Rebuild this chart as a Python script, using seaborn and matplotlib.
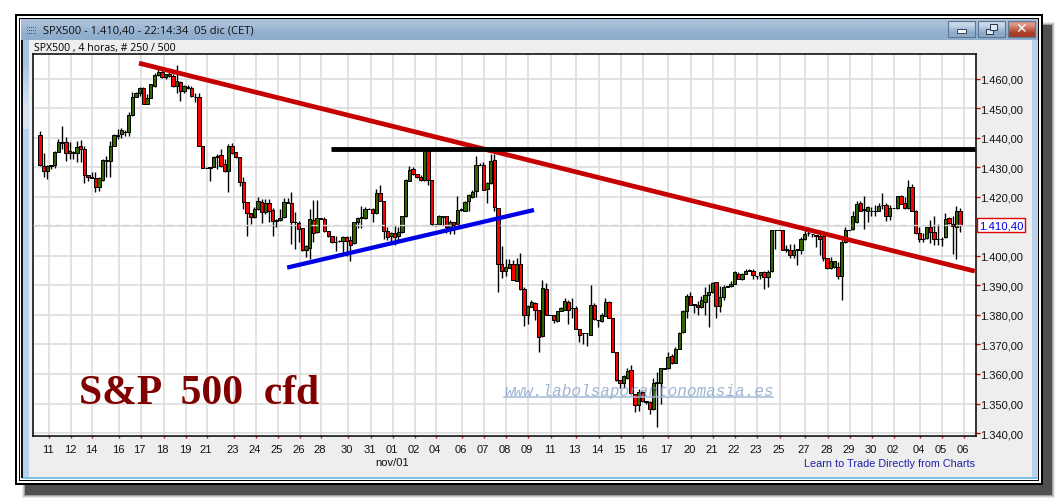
import numpy as np
import pandas as pd
import matplotlib
matplotlib.use("Agg")
import matplotlib.pyplot as plt
from matplotlib.patches import Rectangle
from matplotlib.lines import Line2D
from matplotlib.transforms import ScaledTranslation
import seaborn as sns

#--------------------------------Data----------------------------#
opens = [1440.9,1430.5,1428.6,1430.5,1430.8,1435.2,1438.2,1438.6,1434.7,1434.8,1434.7,1437.0,1436.0,1427.5,1426.6,1426.4,1423.4,1425.8,1432.1,1432.2,
         1437.3,1440.7,1441.2,1441.8,1442.0,1447.5,1453.9,1455.0,1456.9,1451.5,1453.5,1457.4,1461.1,1462.1,1460.4,1461.5,1461.0,1457.4,1458.9,1455.7,
         1456.9,1456.7,1453.6,1453.6,1437.2,1429.7,1429.8,1430.2,1433.4,1434.1,1431.1,1428.6,1437.2,1435.0,1433.3,1424.9,1418.1,1414.6,1413.1,1415.8,
         1418.1,1414.7,1417.9,1415.4,1411.8,1412.1,1413.0,1418.0,1417.9,1411.3,1411.2,1409.3,1401.8,1402.7,1412.2,1407.9,1412.6,1412.6,1408.4,1406.7,
         1404.7,1404.9,1404.9,1406.2,1405.4,1404.2,1411.6,1412.9,1412.7,1415.8,1415.7,1414.4,1421.2,1418.5,1408.5,1406.6,1407.7,1406.6,1408.0,1413.4,
         1425.3,1429.4,1427.6,1426.5,1425.6,1435.3,1425.6,1410.7,1410.8,1413.2,1413.3,1409.6,1411.4,1410.6,1415.6,1415.3,1418.4,1419.8,1421.8,1430.7,
         1430.8,1422.7,1424.7,1432.4,1416.1,1397.1,1395.0,1395.9,1397.1,1391.5,1397.1,1388.9,1380.0,1382.7,1383.9,1381.6,1372.7,1388.9,1380.0,1380.1,
         1378.0,1381.4,1381.8,1384.2,1382.3,1382.4,1375.2,1373.7,1373.7,1373.3,1383.5,1378.2,1378.0,1379.7,1384.2,1379.1,1367.5,1358.0,1356.9,1358.6,
         1361.2,1353.2,1349.6,1354.0,1351.0,1350.4,1348.0,1357.0,1356.8,1361.8,1361.9,1366.2,1363.8,1368.6,1374.1,1381.2,1386.4,1383.4,1383.2,1382.7,
         1384.4,1386.7,1387.6,1391.0,1382.9,1386.2,1389.6,1389.8,1390.6,1394.0,1392.2,1394.0,1394.9,1395.0,1393.2,1393.6,1394.6,1392.9,1394.7,1408.6,
         1408.6,1408.7,1402.4,1401.8,1400.1,1402.1,1401.8,1405.6,1407.7,1407.3,1406.6,1406.6,1406.6,1399.3,1395.9,1396.2,1396.2,1393.1,1404.8,1408.7,
         1408.9,1411.4,1417.9,1415.6,1415.1,1415.2,1415.2,1415.3,1417.1,1417.1,1413.4,1416.1,1416.2,1420.2,1417.8,1416.2,1423.2,1415.2,1407.7,1405.6,
         1406.0,1409.7,1407.9,1405.6,1405.6,1406.2,1412.7,1410.8,1409.6,1415.1]
closes = [1430.8,1428.6,1430.5,1430.7,1435.2,1438.4,1438.4,1434.7,1435.6,1435.0,1436.7,1436.0,1427.5,1426.6,1426.4,1423.4,1426.2,1432.3,1432.3,1437.2,
          1440.9,1440.9,1442.6,1442.0,1447.5,1453.7,1455.0,1456.8,1451.5,1453.3,1458.0,1461.1,1462.1,1460.6,1461.5,1460.7,1457.6,1459.1,1455.8,1457.4,
          1457.0,1454.0,1453.8,1437.3,1429.8,1429.8,1429.9,1433.4,1433.7,1430.5,1428.7,1437.0,1434.8,1433.3,1424.9,1418.1,1414.6,1413.1,1415.7,1418.4,
          1414.9,1417.9,1415.1,1411.7,1412.0,1412.8,1418.1,1418.1,1411.5,1411.4,1409.1,1402.1,1403.3,1412.3,1407.7,1412.7,1412.7,1408.3,1406.6,1404.6,
          1404.8,1405.1,1406.4,1405.1,1403.8,1411.4,1412.9,1413.0,1415.8,1415.9,1414.4,1421.3,1418.6,1408.3,1406.5,1407.6,1406.5,1408.2,1413.4,1425.6,
          1429.2,1427.6,1426.6,1425.6,1435.3,1425.6,1410.8,1410.8,1413.4,1413.3,1409.6,1411.6,1410.5,1415.4,1415.7,1418.2,1420.5,1421.5,1430.6,1430.8,
          1422.4,1424.6,1432.0,1416.5,1397.2,1395.0,1396.1,1397.1,1391.9,1397.1,1388.6,1380.0,1382.9,1384.2,1381.8,1372.4,1389.2,1380.0,1380.1,1378.3,
          1381.2,1382.3,1384.7,1381.8,1382.4,1375.3,1373.3,1373.8,1373.8,1383.5,1378.5,1378.3,1380.1,1384.4,1379.1,1367.5,1357.9,1357.1,1359.2,1360.9,
          1353.4,1349.6,1354.0,1350.9,1350.4,1348.3,1356.8,1357.1,1361.9,1361.9,1365.9,1363.7,1368.3,1373.8,1381.2,1386.4,1383.5,1383.5,1382.5,1385.0,
          1386.7,1387.6,1390.7,1383.1,1386.2,1389.6,1389.7,1390.6,1394.4,1392.3,1393.7,1394.8,1395.0,1393.5,1393.3,1394.4,1392.7,1394.4,1408.8,1408.7,
          1408.7,1402.1,1401.8,1400.1,1402.1,1402.3,1405.7,1407.3,1407.8,1407.4,1407.0,1405.7,1399.2,1395.8,1398.2,1398.1,1393.3,1404.6,1408.8,1408.8,
          1413.4,1417.4,1415.3,1415.7,1416.5,1415.3,1415.3,1417.0,1417.3,1413.4,1416.1,1416.2,1420.2,1417.6,1416.1,1423.2,1415.3,1407.7,1405.7,1405.7,
          1409.7,1407.9,1405.6,1405.7,1405.7,1412.3,1411.0,1410.0,1415.1,1410.4]
highs = [1442.4,1434.8,1430.8,1430.8,1435.6,1439.5,1443.9,1440.1,1438.4,1435.6,1438.9,1439.2,1437.3,1427.5,1428.5,1428.2,1426.6,1432.8,1433.9,1438.9,
         1441.2,1442.9,1443.1,1442.6,1448.8,1455.3,1455.3,1457.2,1457.2,1454.8,1458.3,1461.9,1463.3,1463.0,1461.5,1462.6,1461.5,1464.6,1459.2,1457.8,
         1457.8,1457.4,1455.1,1455.0,1437.2,1429.9,1429.9,1433.9,1434.5,1436.1,1432.8,1437.8,1438.2,1435.0,1433.3,1426.6,1418.1,1414.6,1416.4,1419.8,
         1419.2,1419.2,1419.2,1416.1,1412.5,1415.8,1419.4,1419.6,1421.5,1414.7,1411.9,1409.3,1403.7,1415.8,1419.0,1419.0,1412.7,1413.0,1408.4,1406.7,
         1406.8,1405.5,1406.8,1406.6,1406.6,1411.6,1413.1,1416.7,1416.5,1416.1,1416.1,1422.7,1423.8,1418.5,1409.7,1408.0,1410.0,1409.7,1413.6,1426.1,
         1430.3,1430.0,1427.6,1427.2,1435.3,1435.3,1425.6,1410.8,1413.9,1413.3,1413.3,1412.2,1411.4,1420.1,1416.1,1418.7,1420.9,1422.3,1433.9,1431.4,
         1431.7,1425.1,1434.5,1434.5,1416.1,1403.2,1398.9,1398.9,1398.6,1399.1,1401.1,1389.3,1383.3,1385.1,1384.4,1381.6,1391.8,1390.8,1380.1,1380.1,
         1381.4,1382.7,1385.7,1384.9,1385.6,1382.9,1375.2,1373.8,1373.8,1390.1,1384.0,1378.3,1380.5,1385.6,1384.8,1379.1,1367.5,1358.0,1359.8,1361.9,
         1363.0,1353.2,1354.9,1354.3,1351.0,1350.9,1358.8,1360.7,1361.9,1361.9,1367.5,1366.7,1369.0,1374.3,1381.6,1387.0,1387.8,1383.5,1384.8,1386.5,
         1389.3,1390.4,1391.0,1391.2,1389.8,1390.1,1389.7,1391.5,1394.7,1394.4,1394.1,1395.5,1395.5,1395.5,1393.3,1394.6,1394.9,1395.1,1408.8,1408.7,
         1408.7,1408.7,1403.5,1404.1,1404.1,1402.3,1406.3,1409.1,1409.7,1407.4,1407.0,1407.4,1406.6,1399.3,1399.5,1398.1,1397.9,1405.2,1409.7,1408.8,
         1415.3,1418.5,1418.7,1420.1,1416.7,1416.5,1417.3,1417.8,1421.3,1417.9,1417.3,1416.2,1420.4,1420.6,1419.8,1425.7,1424.4,1415.6,1409.7,1407.8,
         1409.9,1412.0,1413.6,1410.8,1406.3,1414.4,1413.1,1413.6,1416.7,1416.1]
lows = [1430.5,1426.6,1426.0,1429.4,1429.6,1435.0,1436.1,1432.2,1432.8,1432.8,1431.6,1431.6,1424.6,1425.4,1426.4,1421.5,1422.0,1425.4,1426.6,1426.8,
        1437.3,1439.5,1439.8,1440.7,1440.4,1447.4,1453.6,1454.2,1451.3,1451.3,1453.3,1457.0,1460.8,1460.3,1460.0,1460.4,1457.2,1455.1,1452.5,1455.1,
        1456.4,1453.6,1452.2,1437.3,1429.6,1429.6,1425.4,1429.9,1429.4,1430.2,1428.5,1421.7,1434.4,1433.0,1423.7,1415.8,1406.8,1410.6,1412.7,1415.6,
        1411.1,1414.1,1411.3,1406.6,1409.9,1411.9,1412.7,1418.0,1404.0,1402.3,1404.5,1401.7,1399.5,1398.9,1404.5,1407.6,1412.6,1407.9,1406.3,1404.2,
        1401.7,1404.8,1401.2,1400.0,1398.1,1404.1,1409.4,1409.5,1412.5,1415.8,1411.4,1414.2,1418.4,1405.7,1405.2,1404.1,1403.5,1405.2,1407.8,1413.1,
        1425.2,1427.2,1426.3,1425.3,1425.4,1423.8,1410.3,1410.0,1410.6,1410.3,1407.8,1407.4,1407.4,1410.3,1415.0,1415.1,1415.3,1419.6,1419.8,1430.7,
        1422.1,1417.9,1424.4,1415.0,1387.9,1392.4,1393.2,1395.7,1391.7,1391.3,1388.4,1376.3,1376.9,1382.5,1378.2,1367.5,1372.4,1379.8,1380.0,1377.1,
        1377.7,1381.2,1381.6,1376.9,1379.1,1375.1,1370.9,1370.1,1369.5,1373.2,1378.3,1376.0,1377.7,1379.5,1378.9,1367.3,1357.7,1355.1,1355.4,1358.3,
        1353.2,1347.2,1347.5,1350.6,1349.8,1346.6,1347.8,1342.2,1349.8,1361.8,1361.6,1363.3,1363.6,1368.4,1373.8,1379.1,1383.3,1380.8,1379.9,1382.3,
        1379.9,1376.0,1387.4,1379.1,1381.0,1385.0,1389.6,1389.6,1390.4,1392.1,1391.9,1393.8,1394.9,1392.1,1392.1,1392.1,1388.9,1389.6,1394.5,1402.4,
        1408.6,1401.8,1401.2,1399.2,1399.2,1396.9,1400.7,1405.4,1406.6,1406.3,1402.9,1400.1,1398.4,1395.4,1395.4,1395.8,1392.2,1384.9,1404.4,1408.7,
        1408.6,1411.2,1415.1,1408.9,1411.4,1413.4,1413.6,1415.1,1415.9,1411.7,1412.0,1416.1,1415.9,1417.4,1415.9,1415.9,1415.1,1407.4,1404.6,1404.6,
        1405.7,1404.4,1403.7,1403.5,1403.3,1406.0,1410.8,1400.7,1398.8,1408.0]

day_ticks = [2.5,8.5,14.2,21.5,27.4,33.6,39.6,45.3,52.6,58.5,64.5,70.4,76.1,83.4,89.7,95.6,101.6,107.3,114.3,120.2,126.2,
             132.2,138.4,145.1,151.3,157.3,163.3,170.0,176.3,182.2,188.2,194.1,200.4,207.1,213.3,219.3,225.3,231.2,238.2,244.2,250.1]
day_labels = ["11","12","14","16","17","18","19","21","23","24","25","26","28","30","31","01","02","04","06","07","08",
              "09","11","13","14","15","16","17","20","21","22","23","25","27","28","29","30","02","04","05","06"]
price_ticks = [1340,1350,1360,1370,1380,1390,1400,1410,1420,1430,1440,1450,1460]
last_price = 1410.40

red_x, red_y = [26.8, 253.0], [1465.2, 1394.8]
black_x, black_y = [78.8, 253.0], [1436.0, 1436.0]
blue_x, blue_y = [66.9, 133.7], [1396.0, 1415.5]

W, H = 1058, 502
SERIF = "Liberation Serif"
SANS = "Liberation Sans"

def es_price(p):
    return f"{p:,.2f}".replace(",", "#").replace(".", ",").replace("#", ".")

sns.set_theme(style="whitegrid")
plt.rcParams["font.family"] = [SANS, "DejaVu Sans"]

fig = plt.figure(figsize=(W / 100, H / 100), dpi=100, facecolor="white")

#--------------------------------Window chrome in pixel coordinates----------------------------#
chrome = fig.add_axes([0, 0, 1, 1], zorder=0)
chrome.axis("off")

def box(x0, y0, x1, y1, color, alpha=1.0, ec="none", lw=0, z=1):
    chrome.add_patch(Rectangle((x0, y0), x1 - x0, y1 - y0, facecolor=color, alpha=alpha, edgecolor=ec, linewidth=lw, zorder=z))

def grad(x0, y0, x1, y1, top, bottom):
    colors = np.array([matplotlib.colors.to_rgb(top), matplotlib.colors.to_rgb(bottom)])[:, None, :]
    chrome.imshow(colors, extent=(x0, x1, y1, y0), aspect="auto", interpolation="bilinear", zorder=3)

#soft drop shadow
for grow, a in ((3, 0.12), (2, 0.2), (1, 0.35), (0, 1.0)):
    box(25 - grow, 26 - grow, 1052 + grow, 496 + grow, "#4f4f4f", alpha=a)

box(15, 15, 1043, 486, "black")
box(17, 17, 1041, 484, "white")
box(19, 19, 1039, 482, "black")
box(20, 20, 1038, 481, "white")
box(22, 20, 1038, 479, "#b9d1e9")
box(22, 478, 1038, 480, "#7fbfe6")
box(29, 41, 1032, 478, "#eeeeee")
box(21, 41, 23, 479, "#111111")
grad(21, 20, 1038, 41, "#a9bfd8", "#8fadcd")
grad(23, 41, 29, 130, "#a9c3de", "#d6e4f2")

#window buttons
for x0, x1, top, bottom in ((948, 975, "#c6d7e8", "#8ba9c9"), (978, 1005, "#c6d7e8", "#8ba9c9"), (1008, 1035, "#dc9585", "#a93c26")):
    grad(x0, 22, x1, 37.5, top, bottom)
    box(x0, 22, x1, 37.5, "none", ec="#5f7690", lw=0.8, z=4)
box(957, 30, 966, 33.5, "#f4f4f4", ec="#33465c", lw=0.7, z=5)
box(986, 29.5, 993, 35, "#dfe8f2", ec="#26384c", lw=0.7, z=5)
box(990, 25, 997, 30.5, "#dfe8f2", ec="#26384c", lw=0.7, z=5)
chrome.text(1021.5, 29.5, "✕", color="white", fontsize=10, fontweight="bold", ha="center", va="center",
            family=["DejaVu Sans"], zorder=5)

#title icon dots
for dx in range(27, 37, 2):
    for dy in (28, 31, 34):
        box(dx, dy, dx + 1, dy + 1, "#4a5a6a", z=5)

chrome.text(43, 31, "SPX500 - 1.410,40 - 22:14:34  05 dic (CET)", fontsize=8.05, color="#111111", va="center",
            family=["Open Sans", "DejaVu Sans"], zorder=5)
chrome.text(33.5, 48, "SPX500 , 4 horas, # 250 / 500", fontsize=7.6, color="black", va="center",
            family=["Open Sans", "DejaVu Sans"], zorder=5)
chrome.set_xlim(0, W)
chrome.set_ylim(H, 0)

#--------------------------------Price chart----------------------------#
L, R, T, B = 33, 975.5, 55, 437.3
ax = fig.add_axes([L / W, 1 - B / H, (R - L) / W, (B - T) / H], zorder=2, facecolor="white")

candles = pd.DataFrame({"i": np.arange(len(opens)), "open": opens, "close": closes, "high": highs, "low": lows})
candles["base"] = candles[["open", "close"]].min(axis=1)
candles["size"] = (candles["close"] - candles["open"]).abs().clip(lower=0.12)
candles["up"] = candles["close"] >= candles["open"]

ax.vlines(candles["i"], candles["low"], candles["high"], color="black", linewidth=1.0, zorder=3)
for up, color in ((True, "#2f6400"), (False, "#ff0000")):
    part = candles[candles["up"] == up]
    sns.barplot(data=part, x="i", y="size", bottom=part["base"].values, native_scale=True, width=0.9,
                color=color, saturation=1, edgecolor="black", linewidth=0.72, errorbar=None, ax=ax, zorder=4)

ax.axhline(last_price, color="#d4d4d4", linewidth=1, linestyle=(0, (5, 3)), zorder=5)

sns.lineplot(x=blue_x, y=blue_y, color="#0000e6", linewidth=3.1, errorbar=None, ax=ax, zorder=6, solid_capstyle="butt")
sns.lineplot(x=red_x, y=red_y, color="#c60000", linewidth=3.4, errorbar=None, ax=ax, zorder=6, solid_capstyle="butt")
sns.lineplot(x=black_x, y=black_y, color="black", linewidth=3.5, errorbar=None, ax=ax, zorder=7, solid_capstyle="butt")

ax.set_xlim(-1.89, 253.2)
ax.set_ylim(1338.9, 1468.3)
ax.set_xlabel("")
ax.set_ylabel("")
ax.set_axisbelow(True)
ax.grid(True, color="#dadada", linewidth=1.1)

ax.set_xticks(day_ticks)
ax.set_xticklabels(day_labels)
ax.set_yticks(price_ticks)
#the 1.410,00 label sits under the price tag in the original
ax.set_yticklabels(["" if p == 1410 else es_price(p) for p in price_ticks])
ax.yaxis.tick_right()
ax.tick_params(axis="y", length=3, width=1, color="#e00000", labelcolor="#111111", labelsize=8, pad=0.5, right=True, left=False)
ax.tick_params(axis="x", length=1.5, width=1, color="#e00000", labelcolor="#111111", labelsize=8, pad=4, bottom=True)
shift = ScaledTranslation(-1.5 / 100, 0, fig.dpi_scale_trans)
for lab in ax.get_xticklabels():
    lab.set_transform(lab.get_transform() + shift)
for side in ax.spines.values():
    side.set_visible(True)
    side.set_color("black")
    side.set_linewidth(1.1)

#price tag on the right axis
ax.text(1.0035, last_price, es_price(last_price),
        transform=ax.get_yaxis_transform(), color="#0000e0", fontsize=8.2, va="center", ha="left", zorder=9, clip_on=False,
        bbox=dict(boxstyle="square,pad=0.18", facecolor="white", edgecolor="#e00000", linewidth=1))

#--------------------------------Overlaid text----------------------------#
fig.text(79 / W, 1 - 404 / H, "S&P  500  cfd", family=SERIF, fontweight="bold", fontsize=30, color="#800000", zorder=8)
fig.text(504 / W, 1 - 396 / H, "www.labolsaporantonomasia.es", family="Liberation Mono", fontstyle="italic", fontsize=11.6,
         color="#7f9fc6", alpha=0.75, zorder=8)
fig.add_artist(Line2D([504 / W, 773 / W], [1 - 397.5 / H, 1 - 397.5 / H], color="#9fb9d8", alpha=0.75, linewidth=1.5, zorder=8))
fig.text(392 / W, 1 - 463 / H, "nov/01", fontsize=8, color="#111111", ha="center", va="center", zorder=8)
fig.text(975 / W, 1 - 464 / H, "Learn to Trade Directly from Charts", fontsize=7.8, color="#1f1fa8", ha="right", va="center", zorder=8)

fig.savefig("out.png", dpi=100)
